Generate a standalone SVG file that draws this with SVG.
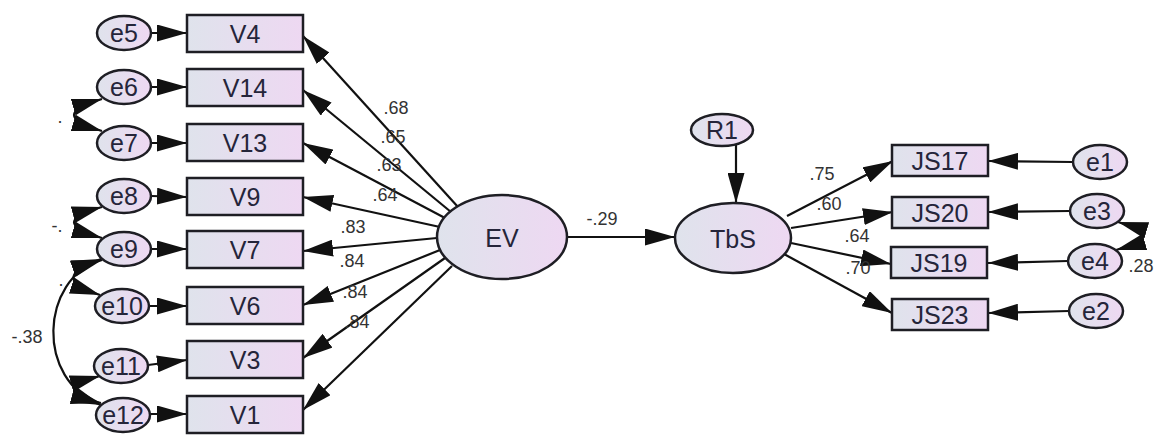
<svg xmlns="http://www.w3.org/2000/svg" width="1159" height="435" viewBox="0 0 1159 435">
  <style>
    .nd { fill: url(#fillGrad); stroke: #1e1e24; stroke-width: 2.5; }
    .nt { font-family: "Liberation Sans", Arial, sans-serif; font-size: 25px; fill: #25253a; text-anchor: middle; dominant-baseline: central; }
    .lb { font-family: "Liberation Sans", Arial, sans-serif; font-size: 18px; fill: #333; text-anchor: middle; dominant-baseline: central; }
    .ar { fill: none; stroke: #111; stroke-width: 2.2; marker-end: url(#head); }
    .cv { fill: none; stroke: #111; stroke-width: 2.2; marker-start: url(#head); marker-end: url(#head); }
  </style>
  <defs>
    <linearGradient id="fillGrad" x1="0" y1="0" x2="1" y2="0">
      <stop offset="0" stop-color="#dfe3ec"/>
      <stop offset="1" stop-color="#eed8f2"/>
    </linearGradient>
    <!-- filled AMOS-style arrowhead, tip on the line end -->
    <marker id="head" markerUnits="userSpaceOnUse" markerWidth="30" markerHeight="17" refX="30" refY="8.5" orient="auto-start-reverse">
      <path d="M0,0 L30,8.5 L0,17 z" fill="#111"/>
    </marker>
  </defs>
  <rect width="1159" height="435" fill="#fff"/>

  <!-- connectors -->
  <g id="connectors">
    <!-- error terms to indicators -->
    <line class="ar" x1="151" y1="33" x2="187" y2="33"/>
    <line class="ar" x1="151" y1="87" x2="187" y2="87"/>
    <line class="ar" x1="151" y1="143" x2="187" y2="143"/>
    <line class="ar" x1="151" y1="196" x2="187" y2="197"/>
    <line class="ar" x1="151" y1="249" x2="187" y2="249"/>
    <line class="ar" x1="149" y1="306" x2="187" y2="306"/>
    <line class="ar" x1="148" y1="365" x2="187" y2="360"/>
    <line class="ar" x1="150" y1="414" x2="187" y2="414"/>
    <!-- EV loadings -->
    <line class="ar" x1="458" y1="207" x2="303" y2="36"/>
    <line class="ar" x1="451" y1="212" x2="303" y2="90"/>
    <line class="ar" x1="445" y1="218" x2="303" y2="143"/>
    <line class="ar" x1="440" y1="227" x2="303" y2="197"/>
    <line class="ar" x1="437" y1="238" x2="303" y2="251"/>
    <line class="ar" x1="440" y1="250" x2="303" y2="305"/>
    <line class="ar" x1="445" y1="258" x2="303" y2="358"/>
    <line class="ar" x1="452" y1="266" x2="303" y2="410"/>
    <!-- structural path -->
    <line class="ar" x1="567" y1="237" x2="675" y2="237"/>
    <line class="ar" x1="736" y1="145" x2="736" y2="203"/>
    <!-- TbS loadings -->
    <line class="ar" x1="787" y1="216" x2="893" y2="161"/>
    <line class="ar" x1="791" y1="228" x2="893" y2="212"/>
    <line class="ar" x1="791" y1="243" x2="891" y2="264"/>
    <line class="ar" x1="784" y1="254" x2="892" y2="313"/>
    <!-- error terms to JS indicators -->
    <line class="ar" x1="1073" y1="162" x2="988" y2="161"/>
    <line class="ar" x1="1070" y1="211" x2="988" y2="212"/>
    <line class="ar" x1="1068" y1="261" x2="988" y2="263"/>
    <line class="ar" x1="1069" y1="311" x2="988" y2="313"/>
    <!-- covariances -->
    <text class="lb" x="60" y="117">.</text>
    <text class="lb" x="57" y="226">-.</text>
    <text class="lb" x="61" y="280">.</text>
    <path class="cv" d="M102,99 Q46,115 102,131"/>
    <path class="cv" d="M102,207 Q46,222 102,238"/>
    <path class="cv" d="M102,260 Q46,277 100,295"/>
    <path class="cv" d="M100,376 Q48,390 101,403"/>
    <path class="cv" d="M101,259 C40,280 35,380 101,405"/>
    <path class="cv" d="M1118,222 Q1166,236 1116,250"/>
    <!-- coefficients -->
    <text class="lb" x="396" y="108">.68</text>
    <text class="lb" x="393" y="137">.65</text>
    <text class="lb" x="389" y="165">.63</text>
    <text class="lb" x="385" y="195">.64</text>
    <text class="lb" x="353" y="227">.83</text>
    <text class="lb" x="352" y="261">.84</text>
    <text class="lb" x="355" y="292">.84</text>
    <text class="lb" x="357" y="322">.84</text>
    <text class="lb" x="602" y="219">-.29</text>
    <text class="lb" x="822" y="174">.75</text>
    <text class="lb" x="829" y="204">.60</text>
    <text class="lb" x="857" y="236">.64</text>
    <text class="lb" x="858" y="268">.70</text>
    <text class="lb" x="1141" y="266">.28</text>
    <text class="lb" x="27" y="337">-.38</text>
  </g>

  <!-- left error terms -->
  <g id="e5"><ellipse class="nd" cx="124" cy="33" rx="27" ry="17"/><text class="nt" x="124" y="33">e5</text></g>
  <g id="e6"><ellipse class="nd" cx="124" cy="87" rx="27" ry="17"/><text class="nt" x="124" y="87">e6</text></g>
  <g id="e7"><ellipse class="nd" cx="124" cy="143" rx="27" ry="17"/><text class="nt" x="124" y="143">e7</text></g>
  <g id="e8"><ellipse class="nd" cx="124" cy="196" rx="27" ry="17"/><text class="nt" x="124" y="196">e8</text></g>
  <g id="e9"><ellipse class="nd" cx="124" cy="249" rx="27" ry="17"/><text class="nt" x="124" y="249">e9</text></g>
  <g id="e10"><ellipse class="nd" cx="122" cy="306" rx="27" ry="17"/><text class="nt" x="122" y="306">e10</text></g>
  <g id="e11"><ellipse class="nd" cx="121" cy="366" rx="27" ry="17"/><text class="nt" x="121" y="366">e11</text></g>
  <g id="e12"><ellipse class="nd" cx="123" cy="415" rx="27" ry="17"/><text class="nt" x="123" y="415">e12</text></g>

  <!-- EV indicators -->
  <g id="V4"><rect class="nd" x="187" y="15" width="116" height="37"/><text class="nt" x="245" y="33.5">V4</text></g>
  <g id="V14"><rect class="nd" x="187" y="69" width="116" height="37"/><text class="nt" x="245" y="87.5">V14</text></g>
  <g id="V13"><rect class="nd" x="187" y="124" width="116" height="37"/><text class="nt" x="245" y="142.5">V13</text></g>
  <g id="V9"><rect class="nd" x="187" y="178" width="116" height="37"/><text class="nt" x="245" y="196.5">V9</text></g>
  <g id="V7"><rect class="nd" x="187" y="231" width="116" height="37"/><text class="nt" x="245" y="249.5">V7</text></g>
  <g id="V6"><rect class="nd" x="187" y="287" width="116" height="37"/><text class="nt" x="245" y="305.5">V6</text></g>
  <g id="V3"><rect class="nd" x="187" y="341" width="116" height="37"/><text class="nt" x="245" y="359.5">V3</text></g>
  <g id="V1"><rect class="nd" x="187" y="396" width="116" height="37"/><text class="nt" x="245" y="414.5">V1</text></g>

  <!-- latent variables -->
  <g id="EV"><ellipse class="nd" cx="502" cy="237" rx="65" ry="42"/><text class="nt" x="502" y="238">EV</text></g>
  <g id="TbS"><ellipse class="nd" cx="733" cy="238" rx="58" ry="35"/><text class="nt" x="733" y="239">TbS</text></g>
  <g id="R1"><ellipse class="nd" cx="722" cy="130" rx="31" ry="16"/><text class="nt" x="722" y="130">R1</text></g>

  <!-- TbS indicators -->
  <g id="JS17"><rect class="nd" x="892" y="145" width="96" height="31"/><text class="nt" x="940" y="160.5">JS17</text></g>
  <g id="JS20"><rect class="nd" x="892" y="197" width="96" height="31"/><text class="nt" x="940" y="212.5">JS20</text></g>
  <g id="JS19"><rect class="nd" x="891" y="247" width="96" height="31"/><text class="nt" x="939" y="262.5">JS19</text></g>
  <g id="JS23"><rect class="nd" x="892" y="299" width="96" height="31"/><text class="nt" x="940" y="314.5">JS23</text></g>

  <!-- right error terms -->
  <g id="e1"><ellipse class="nd" cx="1100" cy="162" rx="27" ry="17"/><text class="nt" x="1100" y="162">e1</text></g>
  <g id="e3"><ellipse class="nd" cx="1097" cy="211" rx="27" ry="17"/><text class="nt" x="1097" y="211">e3</text></g>
  <g id="e4"><ellipse class="nd" cx="1095" cy="261" rx="27" ry="17"/><text class="nt" x="1095" y="261">e4</text></g>
  <g id="e2"><ellipse class="nd" cx="1096" cy="311" rx="27" ry="17"/><text class="nt" x="1096" y="311">e2</text></g>
</svg>
